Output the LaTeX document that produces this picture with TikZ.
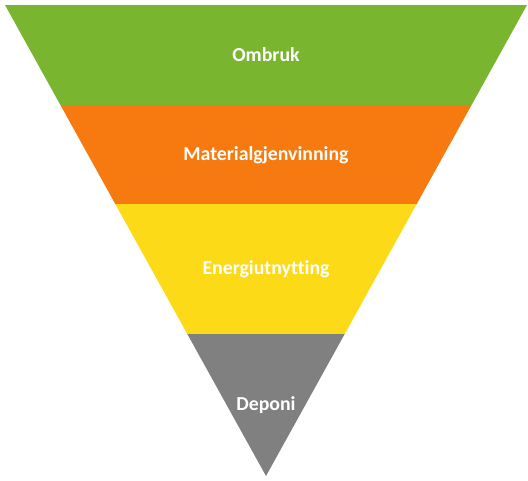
\documentclass[tikz,border=0pt]{standalone}
\usepackage{fontspec}
\setmainfont[Ligatures=NoCommon]{Carlito}
\definecolor{reuse}{RGB}{122,181,48}
\definecolor{recycle}{RGB}{246,122,16}
\definecolor{energy}{RGB}{252,218,24}
\definecolor{landfill}{RGB}{128,128,128}
\tikzset{
  band/.style={fill=#1,draw=none},
  lbl/.style={text=white,font=\bfseries\fontsize{19.8}{23}\selectfont}
}
\begin{document}
\begin{tikzpicture}[x=1pt,y=-1pt]
  \useasboundingbox (0,0) rectangle (528,480);
  % waste hierarchy, top to bottom
  \fill[band=reuse]    (5,5) -- (527,5) -- (471.6,105) -- (60.4,105) -- cycle;
  \fill[band=recycle]  (60.4,105) -- (471.6,105) -- (416.7,204) -- (115.3,204) -- cycle;
  \fill[band=energy]   (115.3,204) -- (416.7,204) -- (344.7,334) -- (187.3,334) -- cycle;
  \fill[band=landfill] (187.3,334) -- (344.7,334) -- (266,476) -- cycle;

  \node[lbl] (ombruk)  at (266,55)  {Ombruk};
  \node[lbl] (materie) at (266,155) {Materialgjenvinning};
  \node[lbl] (energi)  at (266,269) {Energiutnytting};
  \node[lbl] (deponi)  at (266,405) {Deponi};
\end{tikzpicture}
\end{document}
